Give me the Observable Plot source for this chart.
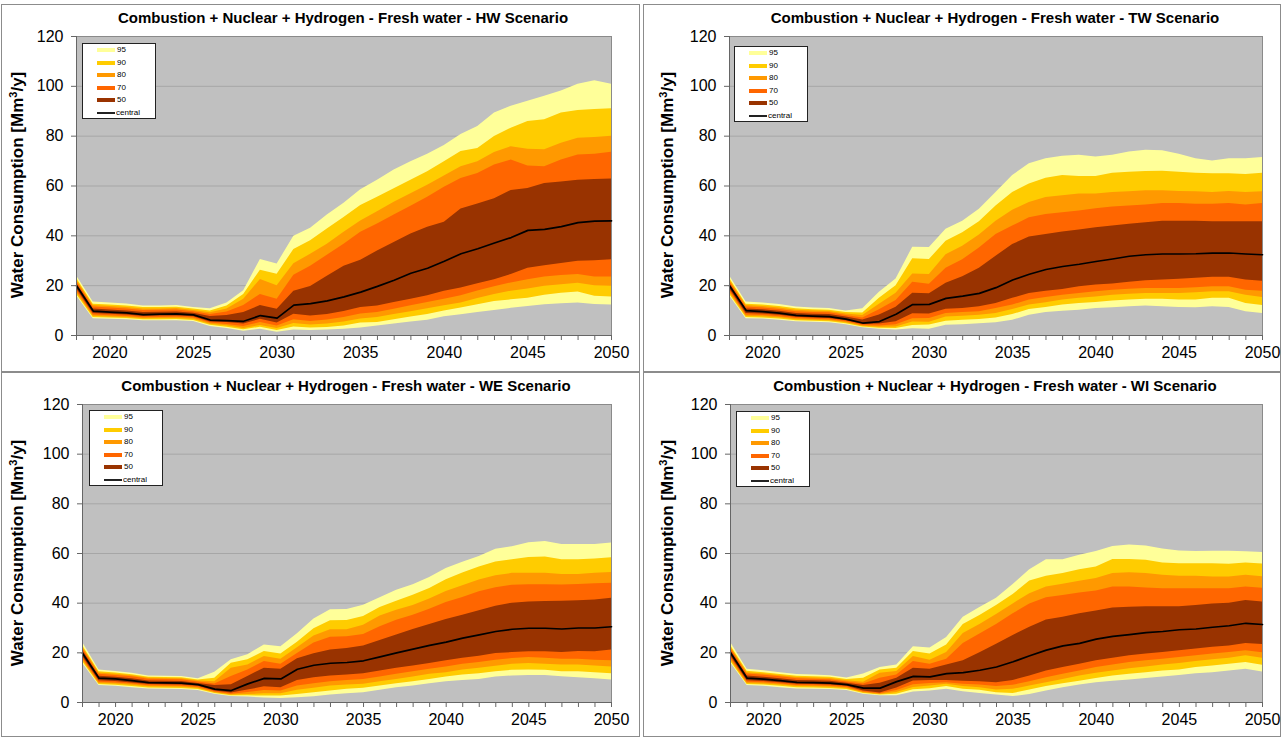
<!DOCTYPE html>
<html><head><meta charset="utf-8">
<script src="https://cdn.jsdelivr.net/npm/d3@7"></script>
<script src="https://cdn.jsdelivr.net/npm/@observablehq/plot@0.6"></script>
<style>
body{margin:0;background:#fff;width:1281px;height:737px;position:relative;overflow:hidden;font-family:"Liberation Sans",Arial,sans-serif;}
.box{position:absolute;border:1px solid #8c8c8c;box-sizing:border-box;}
.title{position:absolute;font-weight:bold;font-size:15px;text-align:center;white-space:nowrap;line-height:18px;transform:translate(-50%,-50%);}
.ylab{position:absolute;font-weight:bold;font-size:17px;white-space:nowrap;transform:translate(-50%,-50%) rotate(-90deg);line-height:20px;}
.legend{position:absolute;background:#fff;border:1px solid #222;box-sizing:border-box;width:74px;height:76px;}
.sw{position:absolute;left:14px;width:18px;height:4px;}
.lt{position:absolute;left:34px;font-size:8px;line-height:10px;}
.chart{position:absolute;}
.chart svg{overflow:visible;}
</style></head><body>
<script>
const YEARS = [2018,2019,2020,2021,2022,2023,2024,2025,2026,2027,2028,2029,2030,2031,2032,2033,2034,2035,2036,2037,2038,2039,2040,2041,2042,2043,2044,2045,2046,2047,2048,2049,2050];
const X_LABELS = [2020,2025,2030,2035,2040,2045,2050];
const Y_TICKS = [0,20,40,60,80,100,120];
const BANDS = ["95","90","80","70","50"];
const BAND_COLORS = ["#FFFF99","#FFCC00","#FF9900","#FF6600","#993300"];
const TITLES = [
  "Combustion + Nuclear + Hydrogen - Fresh water - HW Scenario",
  "Combustion + Nuclear + Hydrogen - Fresh water - TW Scenario",
  "Combustion + Nuclear + Hydrogen - Fresh water - WE Scenario",
  "Combustion + Nuclear + Hydrogen - Fresh water - WI Scenario"
];

// ---- HW scenario ----
const HW_U95 = [24,13.4,13,12.6,11.8,11.8,12,11.2,10.7,13,18,30.5,28.7,39.8,43,48.4,53.1,58.5,62.3,66.4,69.7,72.7,76.3,80.7,83.9,89.3,92,94,96,98.1,100.8,102.2,100.8];
const HW_U90 = [23,12.5,12.2,11.8,11.2,11.2,11.3,10.6,9.8,11.8,16.5,26.2,24.6,34.5,38,42.7,47.4,52.2,55.5,58.9,62.3,65.7,69.7,73.8,75.1,79.9,83.2,85.9,86.6,89.3,90.3,90.7,91];
const HW_U80 = [22.3,12,11.6,11.2,10.6,10.6,10.8,10,9.1,10.6,14.5,22.5,20,28.8,32.6,36.6,41.4,46,49.7,53.5,56.9,60.3,64,67.7,69.7,73.4,75.8,74.7,74.5,77.2,79.2,79.5,80];
const HW_U70 = [21.8,11.4,11,10.6,10,10.1,10.2,9.5,8.4,9.4,12,16.5,14.5,24.2,27.8,32.2,36.6,41.4,44.7,48.4,51.9,55.5,59.5,63,65,68.4,70.4,68,67.7,70.4,72.4,72.7,73.5];
const HW_U50 = [21,10.6,10.2,9.8,9.2,9.3,9.4,8.9,7.6,8,9.2,12,10.5,17.8,19.7,23.8,27.8,30.2,33.9,37.3,40.7,43.4,45.5,50.8,52.8,54.9,58.2,59,61,61.6,62.3,62.6,62.8];
const HW_C   = [20,9.8,9.4,9.1,8.4,8.6,8.7,8.3,6.2,6,5.7,8,7,12.2,12.8,13.9,15.5,17.4,19.7,22.2,25,27,29.8,32.8,34.8,37.1,39.3,42.2,42.6,43.7,45.3,45.9,46];
const HW_L50 = [18.8,8.8,8.5,8.2,7.6,7.8,7.8,7.5,5.4,5.2,4.6,6.5,5,8.5,7.8,8.4,9.6,11.2,11.8,13.2,14.5,16,17.8,19.1,20.8,22.4,24.5,27,28,28.9,29.8,30,30.4];
const HW_L70 = [18,8.2,7.9,7.6,7.1,7.2,7.3,7,5,4.4,3.6,5.2,3.8,6.3,5.6,6.2,7.2,8.6,9.2,10.5,11.9,13.2,14.5,16,17.9,19.6,21.1,22.4,23.5,24.1,24.5,23.5,23.5];
const HW_L80 = [17.3,7.7,7.4,7.2,6.7,6.8,6.8,6.5,4.5,3.9,2.8,4,2.8,4.8,4.2,4.6,5.4,6.6,7.2,8.4,9.5,10.7,11.9,13,14.8,16.5,17.8,18.7,19.8,20.4,21,20,19.8];
const HW_L90 = [16.6,7.2,7,6.8,6.3,6.3,6.4,6,4.1,3.3,2.3,3.3,2,3.4,3,3.2,3.8,5,5.2,6.3,7.4,8.4,9.8,11,12.3,13.6,14.3,15,16.2,17,17.5,15.8,15.5];
const HW_L95 = [16,6.7,6.5,6.3,5.9,5.9,5.9,5.6,3.6,2.8,1.7,2.5,1.3,2.2,2,2.2,2.5,3,3.8,4.6,5.4,6.1,7.5,8.3,9.2,10,10.9,11.6,12.3,12.7,13,12.4,12.2];

// ---- TW scenario ----
const TW_U95 = [24,13.4,13,12.4,11.4,11,10.8,9.8,10.7,17.4,22.7,35.4,35.3,42.6,45.9,50.7,57.4,64.2,68.9,70.9,71.9,72.3,71.6,72.3,73.6,74.3,74.1,72.7,70.9,70,70.9,70.9,71.4];
const TW_U90 = [23,12.5,12.2,11.6,10.7,10.3,10.1,9.2,9,15,20,30.8,30.5,37.8,41.2,45.7,52,57.4,60.8,63.1,64.2,63.8,63.8,65.1,65.5,65.8,65.9,65.5,65.1,64.9,64.9,64.6,65.1];
const TW_U80 = [22.3,12,11.6,11,10.1,9.8,9.6,8.6,8,12.5,17,24.7,24.5,32.4,35.8,40.3,45.9,50.3,53.4,55.4,56.1,56.8,56.8,57.4,57.7,58.1,58.1,57.8,57.7,57.4,57.8,57.4,57.7];
const TW_U70 = [21.8,11.4,11,10.4,9.5,9.2,9.1,8,7,10.3,14,21.4,20.6,27,30.4,35.1,40.5,43.9,47.3,48.6,49.3,50,50.9,51.6,52,52.4,53,53,52.7,52.7,53,52.4,53];
const TW_U50 = [21,10.6,10.3,9.7,8.8,8.5,8.4,7.4,6.2,8.2,11.3,17,16.8,21,23.6,27,31.8,36.5,39.5,40.5,41.5,42.3,43.2,43.9,44.6,45.3,45.9,45.9,45.9,45.7,45.7,45.7,45.7];
const TW_C   = [20,10,9.6,9,8.1,7.8,7.6,6.6,5,5.6,8.5,12.4,12.5,14.9,15.8,16.9,19.2,22.3,24.6,26.5,27.7,28.6,29.7,30.7,31.8,32.4,32.7,32.7,32.8,33.1,33.1,32.7,32.4];
const TW_L50 = [18.8,8.8,8.6,8.1,7.3,7,6.8,5.9,4.4,4.6,5.5,8.7,8.6,10.5,10.8,11.5,12.8,14.9,16.9,17.8,18.5,19.6,20.3,20.7,21.4,22,22.3,22.6,23,23.4,23.4,22.3,21.8];
const TW_L70 = [18,8.2,8,7.5,6.8,6.5,6.3,5.5,4,3.8,4.3,6.7,6.8,8.8,9.2,9.5,10.8,12.2,14.2,15.3,16.2,16.9,17.6,18.2,18.6,18.9,18.9,18.9,19.2,19.6,19.6,18.2,17.8];
const TW_L80 = [17.3,7.7,7.5,7.1,6.3,6.1,5.9,5.1,3.7,3.3,3.4,5.4,5.3,7.4,7.7,8.1,8.8,10.4,12.2,13.1,14.2,14.9,15.5,16.2,16.6,16.9,16.9,16.9,17.2,17.6,17.6,16.2,15.3];
const TW_L90 = [16.6,7.2,7,6.6,5.9,5.7,5.5,4.7,3.4,2.9,2.8,4,4.2,5.7,6.1,6.4,7,8.4,10.4,11.2,12.2,12.8,13.2,13.8,14.2,14.5,14.5,14.2,14.2,14.9,14.9,12.8,12];
const TW_L95 = [16,6.7,6.6,6.1,5.5,5.3,5.1,4.3,3.1,2.5,2.2,2.7,2.5,4.1,4.3,4.7,5.1,6.1,8.1,9.2,9.7,10.1,10.8,11.1,11.5,11.8,11.5,11.2,11.1,11.5,11.2,9.5,8.8];

// ---- WE scenario ----
const WE_U95 = [24.3,13.1,12.5,11.8,10.7,10.6,10.5,9.6,12.2,17.2,19.2,23.2,22.5,27.7,33.6,37.3,37.5,39.2,42.2,45.2,47.4,50.3,54,56.5,58.8,61.7,62.7,64.3,64.8,63.6,63.6,63.6,64.2];
const WE_U90 = [23,12.4,11.9,11.2,10.2,10.1,10,9.1,9.8,15.8,17.2,20.5,19.5,24.3,29.7,32.9,33,34.6,38.3,40.8,43.2,45.9,49.4,52.1,54.6,56.6,57.5,58.4,58.6,57.5,57.5,57.8,58.3];
const WE_U80 = [22.3,11.9,11.4,10.8,9.8,9.7,9.6,8.7,8.4,13.8,15.1,18.5,17.4,22,26.8,29.3,29.3,31.1,34.8,37.1,39.1,41.7,44.7,47,49.3,51,52,52,52,51.5,51.5,52,52.3];
const WE_U70 = [21.8,11.4,10.9,10.4,9.4,9.3,9.2,8.3,7.5,10.5,13.1,16.5,15.4,19.7,24,26.3,26.5,27.4,30.5,33.1,35.1,37.6,40.3,42.3,44.6,46.2,47.2,47.4,47.4,47.3,47.5,47.8,48];
const WE_U50 = [21,10.6,10.2,9.6,8.7,8.6,8.5,7.7,6.8,7.1,10.5,13.8,13.4,17.6,19.6,21.1,21.7,22.8,25,27.2,29.4,31.4,33.4,35.1,36.9,38.8,40,40.5,40.7,40.8,41,41.3,42];
const WE_C   = [19.8,9.8,9.5,8.8,8,7.9,7.8,7.2,5.4,4.8,7.5,9.7,9.5,13.4,15,15.8,16.1,16.8,18.4,20,21.5,23,24.3,25.9,27.2,28.6,29.5,29.9,29.9,29.6,30,30,30.5];
const WE_L50 = [18.6,8.8,8.5,7.9,7.2,7.1,7,6.5,4.6,3.8,5,6.3,5.9,8.9,10,10.7,11.1,11.6,12.7,13.8,14.7,15.7,16.8,17.8,18.6,19.7,20.1,20.4,20.4,20.1,20.5,20.4,21.1];
const WE_L70 = [17.8,8.2,7.9,7.4,6.7,6.6,6.5,6,4.2,3.3,4,4.8,4.6,6.6,7.6,8.4,8.9,9.3,10.3,11.4,12.4,13.4,14.3,15.4,16.1,17,17.7,18.1,17.8,17.4,17.4,17,16.8];
const WE_L80 = [17.2,7.7,7.4,6.9,6.3,6.2,6.1,5.6,3.9,3,3.2,3.5,3.5,4.9,5.7,6.6,7,7.3,8.4,9.3,10.3,11.4,12,13.1,13.8,14.6,15.4,15.7,15.4,15.1,15.1,14.7,14.3];
const WE_L90 = [16.5,7.2,6.9,6.4,5.8,5.7,5.6,5.2,3.6,2.7,2.7,2.6,2.6,3.2,3.9,4.6,5.3,5.7,6.6,7.6,8.4,9.3,10.3,11.1,11.6,12.4,13,13.1,13,12.4,12.4,12,11.6];
const WE_L95 = [15.8,6.8,6.5,5.9,5.4,5.3,5.2,4.8,3.3,2.4,2.2,1.8,1.6,1.9,2.3,3,3.5,3.9,4.9,5.9,6.6,7.6,8.4,8.9,9.3,10.3,10.7,10.9,10.9,10.4,10,9.6,9.1];

// ---- WI scenario ----
const WI_U95 = [24.3,13.4,12.8,12,11.3,11.1,10.8,9.9,11.5,14.1,15.1,22.5,21.9,26.2,34.3,38.3,42,47.5,53.5,57.5,57.5,59.3,60.8,62.8,63.4,63,61.8,61,60.8,60.9,60.9,60.7,60.4];
const WI_U90 = [23,12.6,12,11.3,10.6,10.4,10.2,9.3,9.8,13.1,13.8,20.5,19.5,23.2,31.4,35,39.1,43.5,48.9,50.8,51.9,53.5,54.6,57.6,57.6,57.3,56.2,55.9,55.9,55.9,55.7,56.2,55.8];
const WI_U80 = [22.3,12,11.5,10.8,10.1,9.9,9.7,8.8,8.2,11.8,12.5,18.5,17,20.1,27.8,31.4,35.4,39.7,43.8,46.5,47.6,48.8,49.9,51.9,52.2,51.9,51.2,50.8,50.8,50.5,50.5,51.2,50.6];
const WI_U70 = [21.8,11.5,11,10.4,9.6,9.4,9.2,8.3,7.5,9.8,11.1,16.5,15.4,17.4,23.8,27.6,31.4,35.7,39.7,42.2,43.1,44.1,44.9,46.5,46.5,46.1,45.8,45.8,45.8,45.8,45.8,46.5,46];
const WI_U50 = [21,10.7,10.2,9.6,8.9,8.8,8.6,7.8,6.8,7.8,9.8,13.8,13.4,15.1,16.8,20,23.5,27,30.3,33.2,34.3,35.7,36.8,38.1,38.4,38.6,38.6,38.6,39.1,39.7,40,41.1,40.5];
const WI_C   = [20,9.8,9.4,8.8,8.1,8,7.8,7.2,5.8,5.8,8.4,10.5,10.3,11.6,12,13,14.3,16.4,18.8,21.1,22.8,23.8,25.5,26.6,27.3,28.1,28.6,29.3,29.6,30.3,30.9,31.9,31.4];
const WI_L50 = [18.8,8.8,8.5,8,7.3,7.2,7,6.5,4.6,3.8,5.8,8.7,8.9,8.9,8.6,8.4,8,8.9,10.7,12.7,14.1,15.4,16.8,17.8,18.8,19.5,20.1,20.8,21.5,22.2,22.8,23.8,23.4];
const WI_L70 = [18,8.2,8,7.5,6.8,6.7,6.5,6,4.2,3.5,4.8,7.1,7.7,8,7.3,7,6.4,6.9,8.4,10,11.4,12.7,14.1,15.1,16.1,16.8,17.4,18.1,18.8,19.5,20.1,20.8,20];
const WI_L80 = [17.3,7.7,7.5,7,6.4,6.3,6.1,5.6,3.9,3.2,4,6,6.6,7.3,6.4,5.9,5,5.3,6.6,8,9.3,10.7,11.8,12.7,13.6,14.3,15.1,15.7,16.5,17.2,17.8,18.8,17.8];
const WI_L90 = [16.6,7.2,7,6.5,5.9,5.8,5.6,5.2,3.6,3,3.3,5.1,5.5,6.4,5.3,4.9,3.9,3.6,5,6.4,7.6,8.6,9.7,10.7,11.4,12,12.7,13.1,14.1,14.7,15.4,16.1,15];
const WI_L95 = [16,6.8,6.5,5.9,5.4,5.3,5.2,4.8,3.3,2.7,2.7,4.2,4.6,5.3,4.3,3.6,3,2.4,3.2,4.6,5.9,7,8,8.6,9.1,9.7,10.3,10.9,11.6,12,12.7,13.4,12.3];

const SCENARIOS = [
  {U:[HW_U95,HW_U90,HW_U80,HW_U70,HW_U50], L:[HW_L95,HW_L90,HW_L80,HW_L70,HW_L50], C:HW_C},
  {U:[TW_U95,TW_U90,TW_U80,TW_U70,TW_U50], L:[TW_L95,TW_L90,TW_L80,TW_L70,TW_L50], C:TW_C},
  {U:[WE_U95,WE_U90,WE_U80,WE_U70,WE_U50], L:[WE_L95,WE_L90,WE_L80,WE_L70,WE_L50], C:WE_C},
  {U:[WI_U95,WI_U90,WI_U80,WI_U70,WI_U50], L:[WI_L95,WI_L90,WI_L80,WI_L70,WI_L50], C:WI_C}
];

// layout (page pixel positions)
const LAYOUT = [
  {box:[1,4,639,368],  svg:[0,30,640,340],  m:[6,29,35,76], title:[343,18],  ylab:[18,185],  legend:[82,43]},
  {box:[643,4,638,368],svg:[643,30,638,340],m:[6,19,35,86], title:[995,18],  ylab:[668,185], legend:[734,46]},
  {box:[1,372,639,365],svg:[0,398,640,339], m:[6,29,35,82], title:[346,386], ylab:[18,553],  legend:[89,410]},
  {box:[643,372,638,365],svg:[643,398,638,339],m:[6,19,35,87],title:[995,386],ylab:[668,553],legend:[736,411]}
];

function el(tag, cls, css, html){
  const e = document.createElement(tag);
  if (cls) e.className = cls;
  Object.assign(e.style, css||{});
  if (html != null) e.innerHTML = html;
  document.body.appendChild(e);
  return e;
}

SCENARIOS.forEach((s, k) => {
  const L = LAYOUT[k];
  el("div","box",{left:L.box[0]+"px",top:L.box[1]+"px",width:L.box[2]+"px",height:L.box[3]+"px"});
  const rows = YEARS.map((year,i) => {
    const r = {year, c: s.C[i]};
    BANDS.forEach((b,j) => { r["u"+b] = s.U[j][i]; r["l"+b] = s.L[j][i]; });
    return r;
  });
  const [w0,h0] = [L.svg[2], L.svg[3]];
  const chart = Plot.plot({
    width: w0, height: h0,
    marginTop: L.m[0], marginRight: L.m[1], marginBottom: L.m[2], marginLeft: L.m[3],
    style: {background:"transparent", fontFamily:'"Liberation Sans", Arial, sans-serif', fontSize:"16px", color:"#000"},
    x: {domain:[2018,2050], label:null},
    y: {domain:[0,120], label:null},
    marks: [
      Plot.frame({fill:"#C0C0C0", stroke:"#8a8a8a"}),
      Plot.gridY([20,40,60,80,100], {stroke:"#a6a6a6", strokeOpacity:1, strokeWidth:1}),
      ...BANDS.map((b,j) => Plot.areaY(rows, {x:"year", y1:"l"+b, y2:"u"+b, fill:BAND_COLORS[j], curve:"linear"})),
      Plot.lineY(rows, {x:"year", y:"c", stroke:"#000", strokeWidth:1.7}),
      Plot.ruleX([2018], {stroke:"#666"}),
      Plot.ruleY([0], {stroke:"#666"}),
      Plot.axisY({ticks:Y_TICKS, tickSize:5, tickPadding:8, stroke:"#666", label:null}),
      Plot.axisX({ticks:YEARS, tickSize:5, tickPadding:6, stroke:"#666", label:null,
        tickFormat: d => X_LABELS.includes(d) ? String(d) : ""})
    ]
  });
  const wrap = el("div","chart",{left:L.svg[0]+"px",top:L.svg[1]+"px",width:w0+"px",height:h0+"px"});
  wrap.appendChild(chart);
  el("div","title",{left:L.title[0]+"px",top:L.title[1]+"px"}, TITLES[k]);
  el("div","ylab",{left:L.ylab[0]+"px",top:L.ylab[1]+"px"}, "Water Consumption [Mm<sup style='font-size:11px;vertical-align:6px;line-height:0'>3</sup>/y]");
  const lg = el("div","legend",{left:L.legend[0]+"px",top:L.legend[1]+"px"});
  BANDS.forEach((b,j) => {
    const yc = 6 + j*12.6;
    const sw = document.createElement("div"); sw.className="sw";
    Object.assign(sw.style,{top:(yc-2)+"px",background:BAND_COLORS[j]}); lg.appendChild(sw);
    const t = document.createElement("div"); t.className="lt"; t.textContent=b;
    Object.assign(t.style,{top:(yc-5)+"px"}); lg.appendChild(t);
  });
  const yc = 6 + 5*12.6;
  const sw = document.createElement("div"); sw.className="sw";
  Object.assign(sw.style,{top:(yc-1)+"px",height:"2px",background:"#222"}); lg.appendChild(sw);
  const t = document.createElement("div"); t.className="lt"; t.textContent="central";
  Object.assign(t.style,{top:(yc-5)+"px",left:"33px"}); lg.appendChild(t);
});
</script></body></html>
